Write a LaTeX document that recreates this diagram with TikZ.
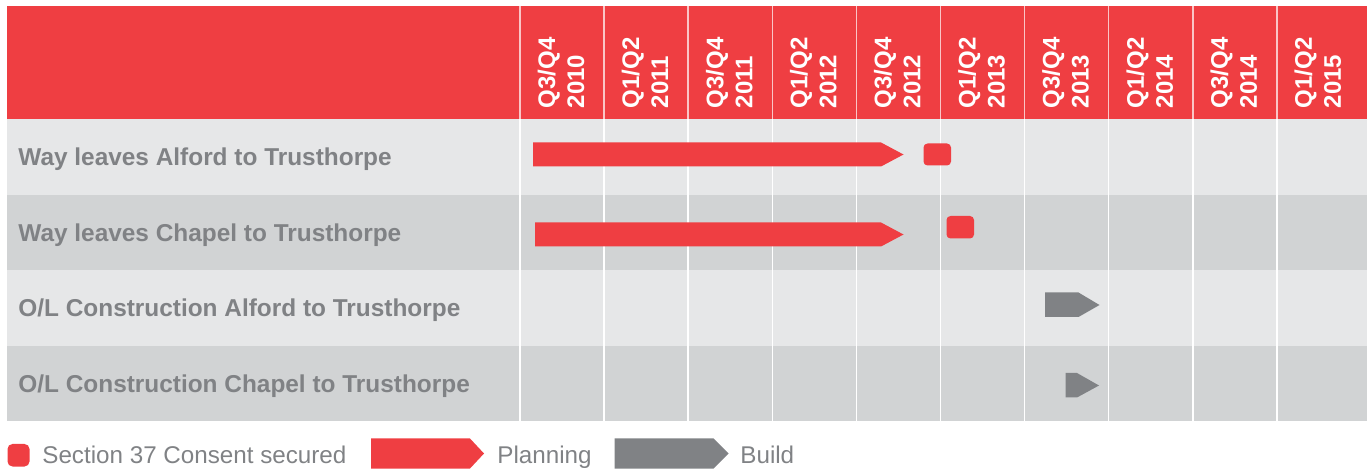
\documentclass[tikz,border=0pt]{standalone}
\usepackage{fontspec}
\setmainfont{Liberation Sans}
\usepackage{xcolor}
\usepackage{tikz}
\definecolor{chartred}{HTML}{EF3E42}
\definecolor{rowlight}{HTML}{E6E7E8}
\definecolor{rowdark}{HTML}{D1D3D4}
\definecolor{labelgray}{HTML}{808285}
\tikzset{
  rowlabel/.style={anchor=base west,inner sep=0pt,text=labelgray,font=\fontsize{12.2}{14.5}\selectfont\bfseries},
  headlabel/.style={rotate=90,anchor=west,inner sep=0pt,align=left,text=white,font=\fontsize{12}{14.5}\selectfont\bfseries},
  keylabel/.style={anchor=base west,inner sep=0pt,text=labelgray,font=\fontsize{12.1}{14.5}\selectfont},
  plan/.style={fill=chartred},
  build/.style={fill=labelgray},
  consent/.style={fill=chartred,rounded corners=2pt}
}

\begin{document}
\begin{tikzpicture}[x=0.5pt,y=-0.5pt]
				\useasboundingbox (0,0) rectangle (1372,470);
				% header and rows
				\fill[chartred] (7,6) rectangle (1367,119);
				\fill[rowlight] (7,119) rectangle (1367,195);
				\fill[rowdark] (7,195) rectangle (1367,270);
				\fill[rowlight] (7,270) rectangle (1367,346);
				\fill[rowdark] (7,346) rectangle (1367,421.5);
				% column lines
				\foreach \i in {0,...,9}{
					\draw[white,opacity=0.7,line width=0.75pt] (520+84.1*\i,6) -- (520+84.1*\i,119);
					\draw[white,line width=0.75pt] (520+84.1*\i,119) -- (520+84.1*\i,421.5);
				}
				% column headings
				\foreach \h [count=\i from 0] in {Q3/Q4\\2010,Q1/Q2\\2011,Q3/Q4\\2011,Q1/Q2\\2012,Q3/Q4\\2012,Q1/Q2\\2013,Q3/Q4\\2013,Q1/Q2\\2014,Q3/Q4\\2014,Q1/Q2\\2015}
					\node[headlabel] (head\i) at (561+84.1*\i,108.5) {\h};
				% row labels
				\node[rowlabel] (wayA) at (18,166) {Way leaves Alford to Trusthorpe};
				\node[rowlabel] (wayC) at (18,241.5) {Way leaves Chapel to Trusthorpe};
				\node[rowlabel] (conA) at (18,317) {O/L Construction Alford to Trusthorpe};
				\node[rowlabel] (conC) at (18,393) {O/L Construction Chapel to Trusthorpe};
				% bars
				\fill[plan] (533,142.5) -- (881,142.5) -- (903.5,154.5) -- (881,166.5) -- (533,166.5) -- cycle;
				\fill[consent] (923.5,143.5) rectangle (951,165.5);
				\fill[plan] (535,222.5) -- (881,222.5) -- (903.5,234.5) -- (881,246.5) -- (535,246.5) -- cycle;
				\fill[consent] (946.5,216) rectangle (974,238.5);
				\fill[build] (1045,292.5) -- (1078.5,292.5) -- (1099.5,305) -- (1078.5,317) -- (1045,317) -- cycle;
				\fill[build] (1065.5,373) -- (1077,373) -- (1099,385.5) -- (1077,397.5) -- (1065.5,397.5) -- cycle;
				% key
				\fill[consent,rounded corners=2.5pt] (7.5,444) rectangle (29.5,466.5);
				\node[keylabel] (keyS) at (42,464) {Section 37 Consent secured};
				\fill[plan] (371,438.5) -- (470,438.5) -- (484,453.5) -- (470,468.5) -- (371,468.5) -- cycle;
				\node[keylabel] (keyP) at (497,464) {Planning};
				\fill[build] (614.5,438.5) -- (713.5,438.5) -- (728.5,453.5) -- (713.5,468.5) -- (614.5,468.5) -- cycle;
				\node[keylabel] (keyB) at (740,464) {Build};
\end{tikzpicture}
\end{document}
